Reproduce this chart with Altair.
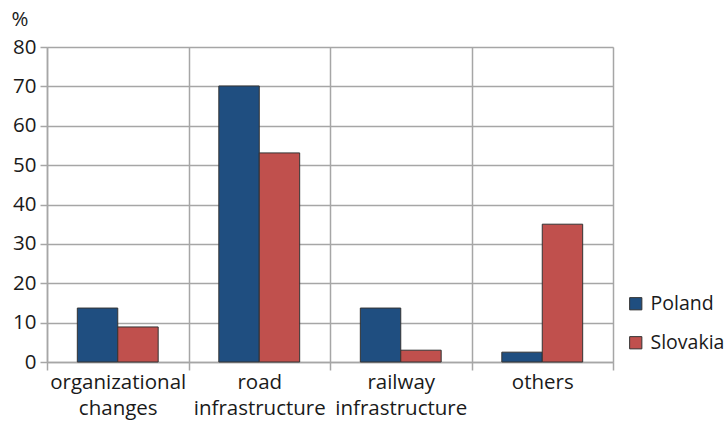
import altair as alt
import pandas as pd

categories = ["organizational changes", "road infrastructure", "railway infrastructure", "others"]
countries = ["Poland", "Slovakia"]
poland = [13.7, 70.1, 13.7, 2.5]
slovakia = [8.9, 53.1, 3.0, 35.0]

rows = []
for cat, p, s in zip(categories, poland, slovakia):
    rows.append({"category": cat, "country": "Poland", "value": p})
    rows.append({"category": cat, "country": "Slovakia", "value": s})
df = pd.DataFrame(rows)

FONT = "Open Sans"
FS = 20.5
GRID = "#a6a6a6"
TEXT = "#1a1a1a"

bars = alt.Chart(df).mark_bar(stroke="#333333", strokeWidth=1).encode(
    x=alt.X(
        "category:N",
        sort=categories,
        scale=alt.Scale(paddingInner=0, paddingOuter=0),
        axis=alt.Axis(
            title=None,
            labelAngle=0,
            labelExpr="split(datum.label, ' ')",
            labelFontSize=FS,
            labelFont=FONT,
            labelColor=TEXT,
            labelPadding=2,
            labelLineHeight=26,
            tickBand="extent",
            tickSize=8,
            tickColor=GRID,
            tickWidth=1.5,
            domainColor=GRID,
            domainWidth=1.5,
            grid=True,
            gridColor=GRID,
            gridWidth=1.5,
        ),
    ),
    xOffset=alt.XOffset(
        "country:N",
        sort=countries,
        scale=alt.Scale(paddingInner=0, paddingOuter=0.75),
    ),
    y=alt.Y(
        "value:Q",
        scale=alt.Scale(domain=[0, 80]),
        axis=alt.Axis(
            title="%",
            titleAngle=0,
            titleAlign="left",
            titleBaseline="alphabetic",
            titleX=-36,
            titleY=-22,
            titleFontSize=FS,
            titleFont=FONT,
            titleFontWeight="normal",
            titleColor=TEXT,
            values=[0, 10, 20, 30, 40, 50, 60, 70, 80],
            labelFontSize=FS,
            labelFont=FONT,
            labelColor=TEXT,
            labelPadding=4,
            tickSize=7,
            tickColor=GRID,
            tickWidth=1.5,
            domainColor=GRID,
            domainWidth=1.5,
            gridColor=GRID,
            gridWidth=1.5,
        ),
    ),
    color=alt.Color(
        "country:N",
        sort=countries,
        scale=alt.Scale(domain=countries, range=["#1f4e80", "#c0504d"]),
        legend=alt.Legend(
            title=None,
            orient="none",
            legendX=579,
            legendY=247,
            symbolType="square",
            symbolSize=150,
            symbolStrokeColor="#333333",
            symbolStrokeWidth=1,
            labelFontSize=19.5,
            labelFont=FONT,
            labelColor=TEXT,
            rowPadding=18,
            labelOffset=5,
        ),
    ),
)

chart = bars.properties(
    width=566,
    height=315,
    autosize=alt.AutoSizeParams(type="none"),
    padding={"left": 47, "top": 47, "right": 114, "bottom": 60},
).configure_view(stroke=GRID, strokeWidth=1.5).configure(background="white")

chart.save("out.html", embed_options={"renderer": "svg", "actions": False})
